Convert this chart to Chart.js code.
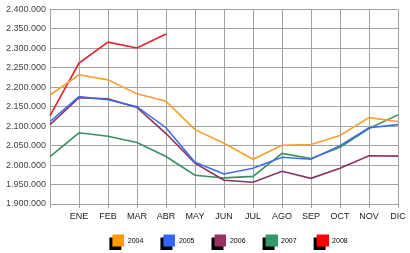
<!DOCTYPE html>
<html>
<head>
<meta charset="utf-8">
<script src="https://cdn.jsdelivr.net/npm/chart.js@4/dist/chart.umd.min.js"></script>
<style>
  html, body { margin: 0; padding: 0; background: #ffffff; }
  #wrap { width: 410px; height: 253px; position: relative; }
</style>
</head>
<body>
<div id="wrap"><canvas id="c" width="410" height="253"></canvas></div>
<script>
const months = ['', 'ENE', 'FEB', 'MAR', 'ABR', 'MAY', 'JUN', 'JUL', 'AGO', 'SEP', 'OCT', 'NOV', 'DIC'];
const seriesNames = ['2004', '2005', '2006', '2007', '2008'];
const values2004 = [2180000, 2232000, 2219000, 2183000, 2164000, 2091000, 2056000, 2015000, 2051000, 2053000, 2076000, 2122000, 2112000];
const values2005 = [2112000, 2176000, 2168000, 2150000, 2096000, 2007000, 1977000, 1992000, 2020000, 2015000, 2050000, 2096000, 2104000];
const values2006 = [2104000, 2173000, 2170000, 2148000, 2081000, 2005000, 1961000, 1956000, 1984000, 1966000, 1992000, 2024000, 2023000];
const values2007 = [2022000, 2083000, 2074000, 2058000, 2022000, 1974000, 1967000, 1971000, 2030000, 2017000, 2046000, 2094000, 2129000];
const values2008 = [2127000, 2262000, 2316000, 2301000, 2337000];
const yMin = 1900000, yMax = 2400000, yStep = 50000;

const lineColors = ['#f7a030', '#3f6ee8', '#8c3060', '#3a8f63', '#e3202a'];
const boxColors  = ['#ff9900', '#3366ff', '#993366', '#339966', '#ff0000'];

function makeBox(color) {
  const cv = document.createElement('canvas');
  cv.width = 16; cv.height = 16;
  const g = cv.getContext('2d');
  g.fillStyle = '#000000';
  g.fillRect(1, 4, 12, 12);
  g.fillStyle = color;
  g.fillRect(4, 1, 12, 12);
  return cv;
}

const allValues = [values2004, values2005, values2006, values2007, values2008];
const datasets = allValues.map((vals, i) => ({
  label: seriesNames[i],
  data: vals,
  borderColor: lineColors[i],
  backgroundColor: boxColors[i],
  pointStyle: makeBox(boxColors[i]),
  borderWidth: 1.6,
  pointRadius: 0,
  pointHoverRadius: 0,
  tension: 0,
  fill: false
}));

function fmt(v) {
  return String(v).replace(/\B(?=(\d{3})+(?!\d))/g, '.');
}

const legendPlace = {
  id: 'legendPlace',
  beforeInit(chart) {
    const lg = chart.legend;
    if (lg && !lg._fitPatched) {
      const orig = lg.fit;
      lg.fit = function () { orig.call(this); this.height = 27; };
      lg._fitPatched = true;
    }
  },
  afterLayout(chart) {
    const lg = chart.legend;
    if (lg) { lg.left = 50; lg.right = 406; lg.top = 222; lg.bottom = 253; }
  }
};

const gridColor = '#a3a3a3';
const ch = new Chart(document.getElementById('c'), {
  type: 'line',
  data: { labels: months, datasets: datasets },
  plugins: [legendPlace],
  options: {
    responsive: false,
    animation: false,
    events: [],
    layout: { padding: { top: 8, right: 12, left: 0, bottom: 0 } },
    plugins: {
      tooltip: { enabled: false },
      legend: {
        display: true,
        position: 'bottom',
        labels: {
          usePointStyle: true,
          pointStyleWidth: 16,
          boxHeight: 7,
          padding: 16,
          color: '#000000',
          font: { family: "'Liberation Sans', Arial, sans-serif", size: 7 }
        }
      }
    },
    scales: {
      x: {
        type: 'category',
        offset: false,
        grid: { color: gridColor, lineWidth: 1, drawTicks: true, tickLength: 4, tickColor: gridColor },
        border: { display: true, color: gridColor },
        ticks: {
          color: '#222222',
          padding: 3,
          maxRotation: 0,
          autoSkip: false,
          font: { family: "'Liberation Sans', Arial, sans-serif", size: 9 }
        },
        afterFit(s) { s.height = 22; }
      },
      y: {
        min: yMin,
        max: yMax,
        grid: { color: gridColor, lineWidth: 1, drawTicks: false },
        border: { display: true, color: gridColor },
        ticks: {
          stepSize: yStep,
          padding: 4,
          color: '#444444',
          font: { family: "'Liberation Sans', Arial, sans-serif", size: 9 },
          callback: (v) => fmt(v)
        },
        afterFit(s) { s.width = 50; }
      }
    }
  }
});
</script>
</body>
</html>
